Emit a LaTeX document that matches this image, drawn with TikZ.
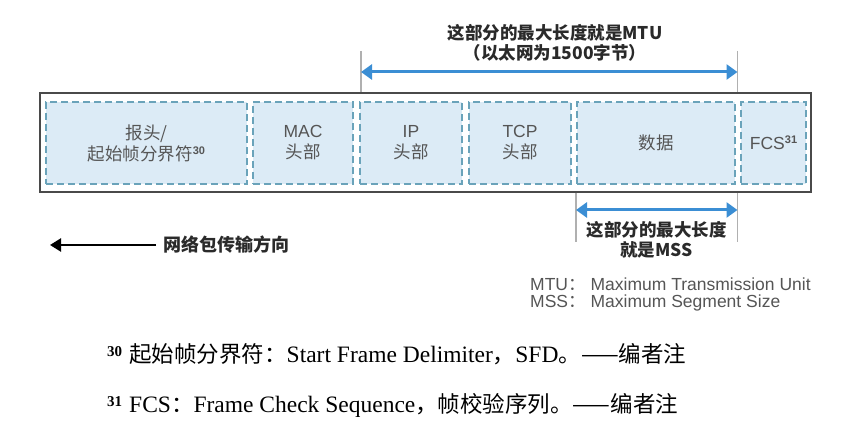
\documentclass[tikz,border=0pt]{standalone}
\usepackage{fontspec}
\setmainfont{Liberation Serif}
\setsansfont{Liberation Sans}
\newfontfamily\cjk{Noto Sans CJK SC}
\usetikzlibrary{arrows.meta}
\definecolor{boxfill}{HTML}{DCEBF6}
\definecolor{boxline}{HTML}{6AA3BA}
\definecolor{framecol}{HTML}{4A4A4A}
\definecolor{labcol}{HTML}{555555}
\definecolor{arrblue}{HTML}{3B8ED4}
\definecolor{guide}{HTML}{B0B0B0}
\definecolor{headcol}{HTML}{2A2A2A}
\tikzset{
  fieldbox/.style={draw=boxline, fill=boxfill, dash pattern=on 7pt off 4pt, line width=1.5pt,
    minimum height=82pt, inner sep=0pt, align=center, text=labcol,
    font=\cjk\fontsize{17.5}{21}\selectfont},
  framebox/.style={draw=framecol, fill=white, line width=1.8pt, minimum width=771pt, minimum height=99pt, inner sep=0pt},
  guideline/.style={draw=guide, line width=1.2pt},
  sizearrow/.style={draw=arrblue, line width=3pt, {Triangle[length=11pt,width=15pt]}-{Triangle[length=11pt,width=15pt]}},
  headtext/.style={text=headcol, align=center, font=\cjk\bfseries\fontsize{17.5}{20}\selectfont, inner sep=0pt},
  legendtext/.style={text=labcol, anchor=west, inner sep=0pt, font=\sffamily\fontsize{17.5}{19}\selectfont},
  notetext/.style={anchor=west, inner sep=0pt, text=black, font=\fontsize{23.5}{26}\selectfont},
}
\newcommand{\supnum}[1]{\raisebox{0.6ex}{\sffamily\bfseries\fontsize{11}{11}\selectfont #1}}
\newcommand{\notenum}[1]{\raisebox{0.5ex}{\bfseries\fontsize{15}{15}\selectfont #1}\hspace{7pt}}
\newcommand{\zh}[1]{{\cjk\fontsize{22.5}{26}\selectfont #1}}
\begin{document}
\begin{tikzpicture}[x=1pt,y=-1pt]
\useasboundingbox (0,0) rectangle (847,430);
% frame
\node[framebox] (frame) at (425.5,142.5) {};
% fields
\node[fieldbox, minimum width=201pt] (pre) at (146.5,143) {报头/\\起始帧分界符\supnum{30}};
\node[fieldbox, minimum width=100pt] (mac) at (303,143) {{\sffamily MAC}\\头部};
\node[fieldbox, minimum width=102pt] (ip) at (411,143) {{\sffamily IP}\\头部};
\node[fieldbox, minimum width=102pt] (tcp) at (520,143) {{\sffamily TCP}\\头部};
\node[fieldbox, minimum width=158pt] (data) at (656,143) {数据};
\node[fieldbox, minimum width=65pt] (fcs) at (773.5,143) {{\sffamily FCS}\supnum{31}};
% MTU
\coordinate (mtuL) at (361,51);
\coordinate (mtuR) at (737.5,51);
\draw[guideline] (mtuL) -- (mtuL |- frame.north);
\draw[guideline] (mtuR) -- (mtuR |- frame.north);
\coordinate (mtuAL) at (361,72);
\coordinate (mtuAR) at (737.5,72);
\draw[sizearrow] (mtuAL) -- (mtuAR);
\node[headtext] (mtutext) at (555,43) {这部分的最大长度就是MTU\\（以太网为1500字节）};
% MSS
\coordinate (mssL) at (576,242);
\coordinate (mssR) at (737.5,242);
\draw[guideline] (mssL |- frame.south) -- (mssL);
\draw[guideline] (mssR |- frame.south) -- (mssR);
\coordinate (mssAL) at (576,210);
\coordinate (mssAR) at (737.5,210);
\draw[sizearrow] (mssAL) -- (mssAR);
\node[headtext] (msstext) at (656.5,240) {这部分的最大长度\\就是MSS};
% direction
\coordinate (dirS) at (156,245);
\coordinate (dirE) at (50,245);
\draw[line width=2.4pt, black, -{Triangle[length=11pt,width=13pt]}] (dirS) -- (dirE);
\node[headtext, anchor=west, font=\cjk\bfseries\fontsize{18}{20}\selectfont] (dirtext) at (163,245) {网络包传输方向};
% legend
\node[legendtext] (mtuleg) at (530,284) {MTU{\cjk ：}\hspace{5pt}Maximum Transmission Unit};
\node[legendtext] (mssleg) at (530,303) {MSS{\cjk ：}\hspace{5pt}Maximum Segment Size};
% footnotes
\node[notetext] (n30) at (107,354) {\notenum{30}\zh{起始帧分界符：}Start Frame Delimiter\zh{，}SFD\zh{。——编者注}};
\node[notetext] (n31) at (107,405) {\notenum{31}FCS\zh{：}Frame Check Sequence\zh{，帧校验序列。——编者注}};
\end{tikzpicture}
\end{document}
